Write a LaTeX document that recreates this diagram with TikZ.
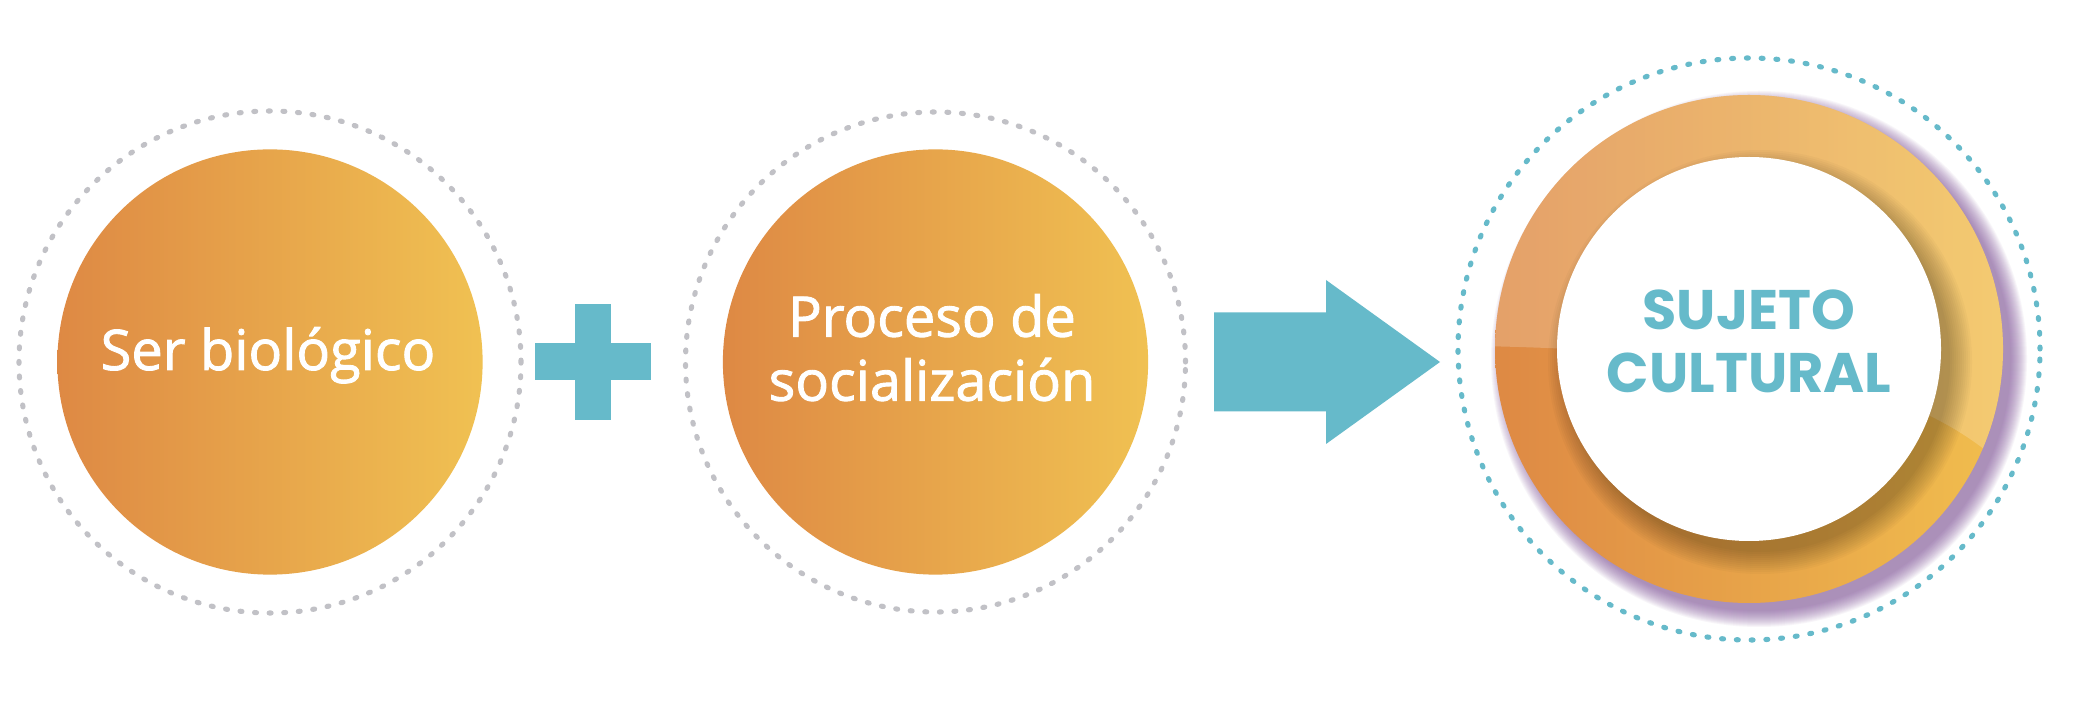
\documentclass[tikz,border=0pt]{standalone}
\usepackage{fontspec}
\setmainfont{Open Sans}
\newfontfamily\ballfont{Open Sans}[FakeBold=1.6]
\newfontfamily\headfont{Poppins}
\usepackage{tikz}
\usepackage{xcolor}
\usetikzlibrary{calc}
\definecolor{ballleft}{HTML}{DE8944}
\definecolor{ballright}{HTML}{F0C152}
\definecolor{signteal}{HTML}{66BACA}
\definecolor{dotgray}{HTML}{C1C1C6}
\definecolor{glowpurple}{HTML}{7A4A94}

\begin{document}
\begin{tikzpicture}[x=0.01cm,y=0.01cm,
    ball/.style={circle,minimum size=4.25cm,inner sep=0pt,left color=ballleft,right color=ballright},
    balltext/.style={text=white,font=\ballfont\fontsize{15.9}{18.2}\selectfont,align=center},
    graydots/.style={dotgray,line width=1.45pt,line cap=round,dash pattern=on 0.55pt off 3.6pt},
    tealdots/.style={signteal,line width=1.45pt,line cap=round,dash pattern=on 0.55pt off 3.65pt}]
  \fill[white] (0,0) rectangle (2085,712);
  \useasboundingbox (0,0) rectangle (2085,712);

  % the two orange balls
  \node[ball] (bio) at (270,350) {};
  \draw[graydots] (bio) circle [radius=251];
  \node[balltext,anchor=base] (biotext) at (268,342) {Ser biológico};
  \node[ball] (soc) at (935.5,350) {};
  \draw[graydots] (soc) circle [radius=250];
  \node[balltext] (soctext) at (932,364.3) {Proceso de\\socialización};

  % plus and arrow
  \coordinate (plus) at (593,350);
  \fill[signteal] ($(plus)+(-58,-18.5)$) rectangle ($(plus)+(58,18.5)$);
  \fill[signteal] ($(plus)+(-18,-58)$) rectangle ($(plus)+(18,58)$);
  \coordinate (arrow) at (1214,350);
  \fill[signteal] ($(arrow)+(0,-49.5)$) -- ++(112,0) -- ++(0,-32.5) -- ($(arrow)+(226,0)$)
    -- ($(arrow)+(112,82)$) -- ++(0,-32.5) -- ($(arrow)+(0,49.5)$) -- cycle;

  % the ring
  \coordinate (sujeto) at (1749,363);
  \draw[tealdots] (sujeto) circle [radius=291];
  \foreach \k in {0,...,16}
    \fill[glowpurple,opacity=0.05] ($(sujeto)+(10,-10)$) circle [radius=252+\k];
  \shade[left color=ballleft,right color=ballright!95!orange] (sujeto) circle [radius=254];
  \begin{scope}
    \clip (sujeto) circle [radius=254];
    \fill[white,opacity=0.2] (1480,366) .. controls (1760,360) and (1920,330) .. (2010,240)
      -- (2010,620) -- (1480,620) -- cycle;
    \foreach \k in {0,2,...,22}
      \fill[black,opacity=0.022] ($(sujeto)+(11,-13)$) circle [radius=190+\k];
  \end{scope}
  \fill[white] (sujeto) circle [radius=192];
  \node[text=signteal,font=\headfont\bfseries\fontsize{15.85}{18.07}\selectfont,align=center]
    (sujetotext) at (1749,370.75) {SUJETO\\CULTURAL};
\end{tikzpicture}
\end{document}
